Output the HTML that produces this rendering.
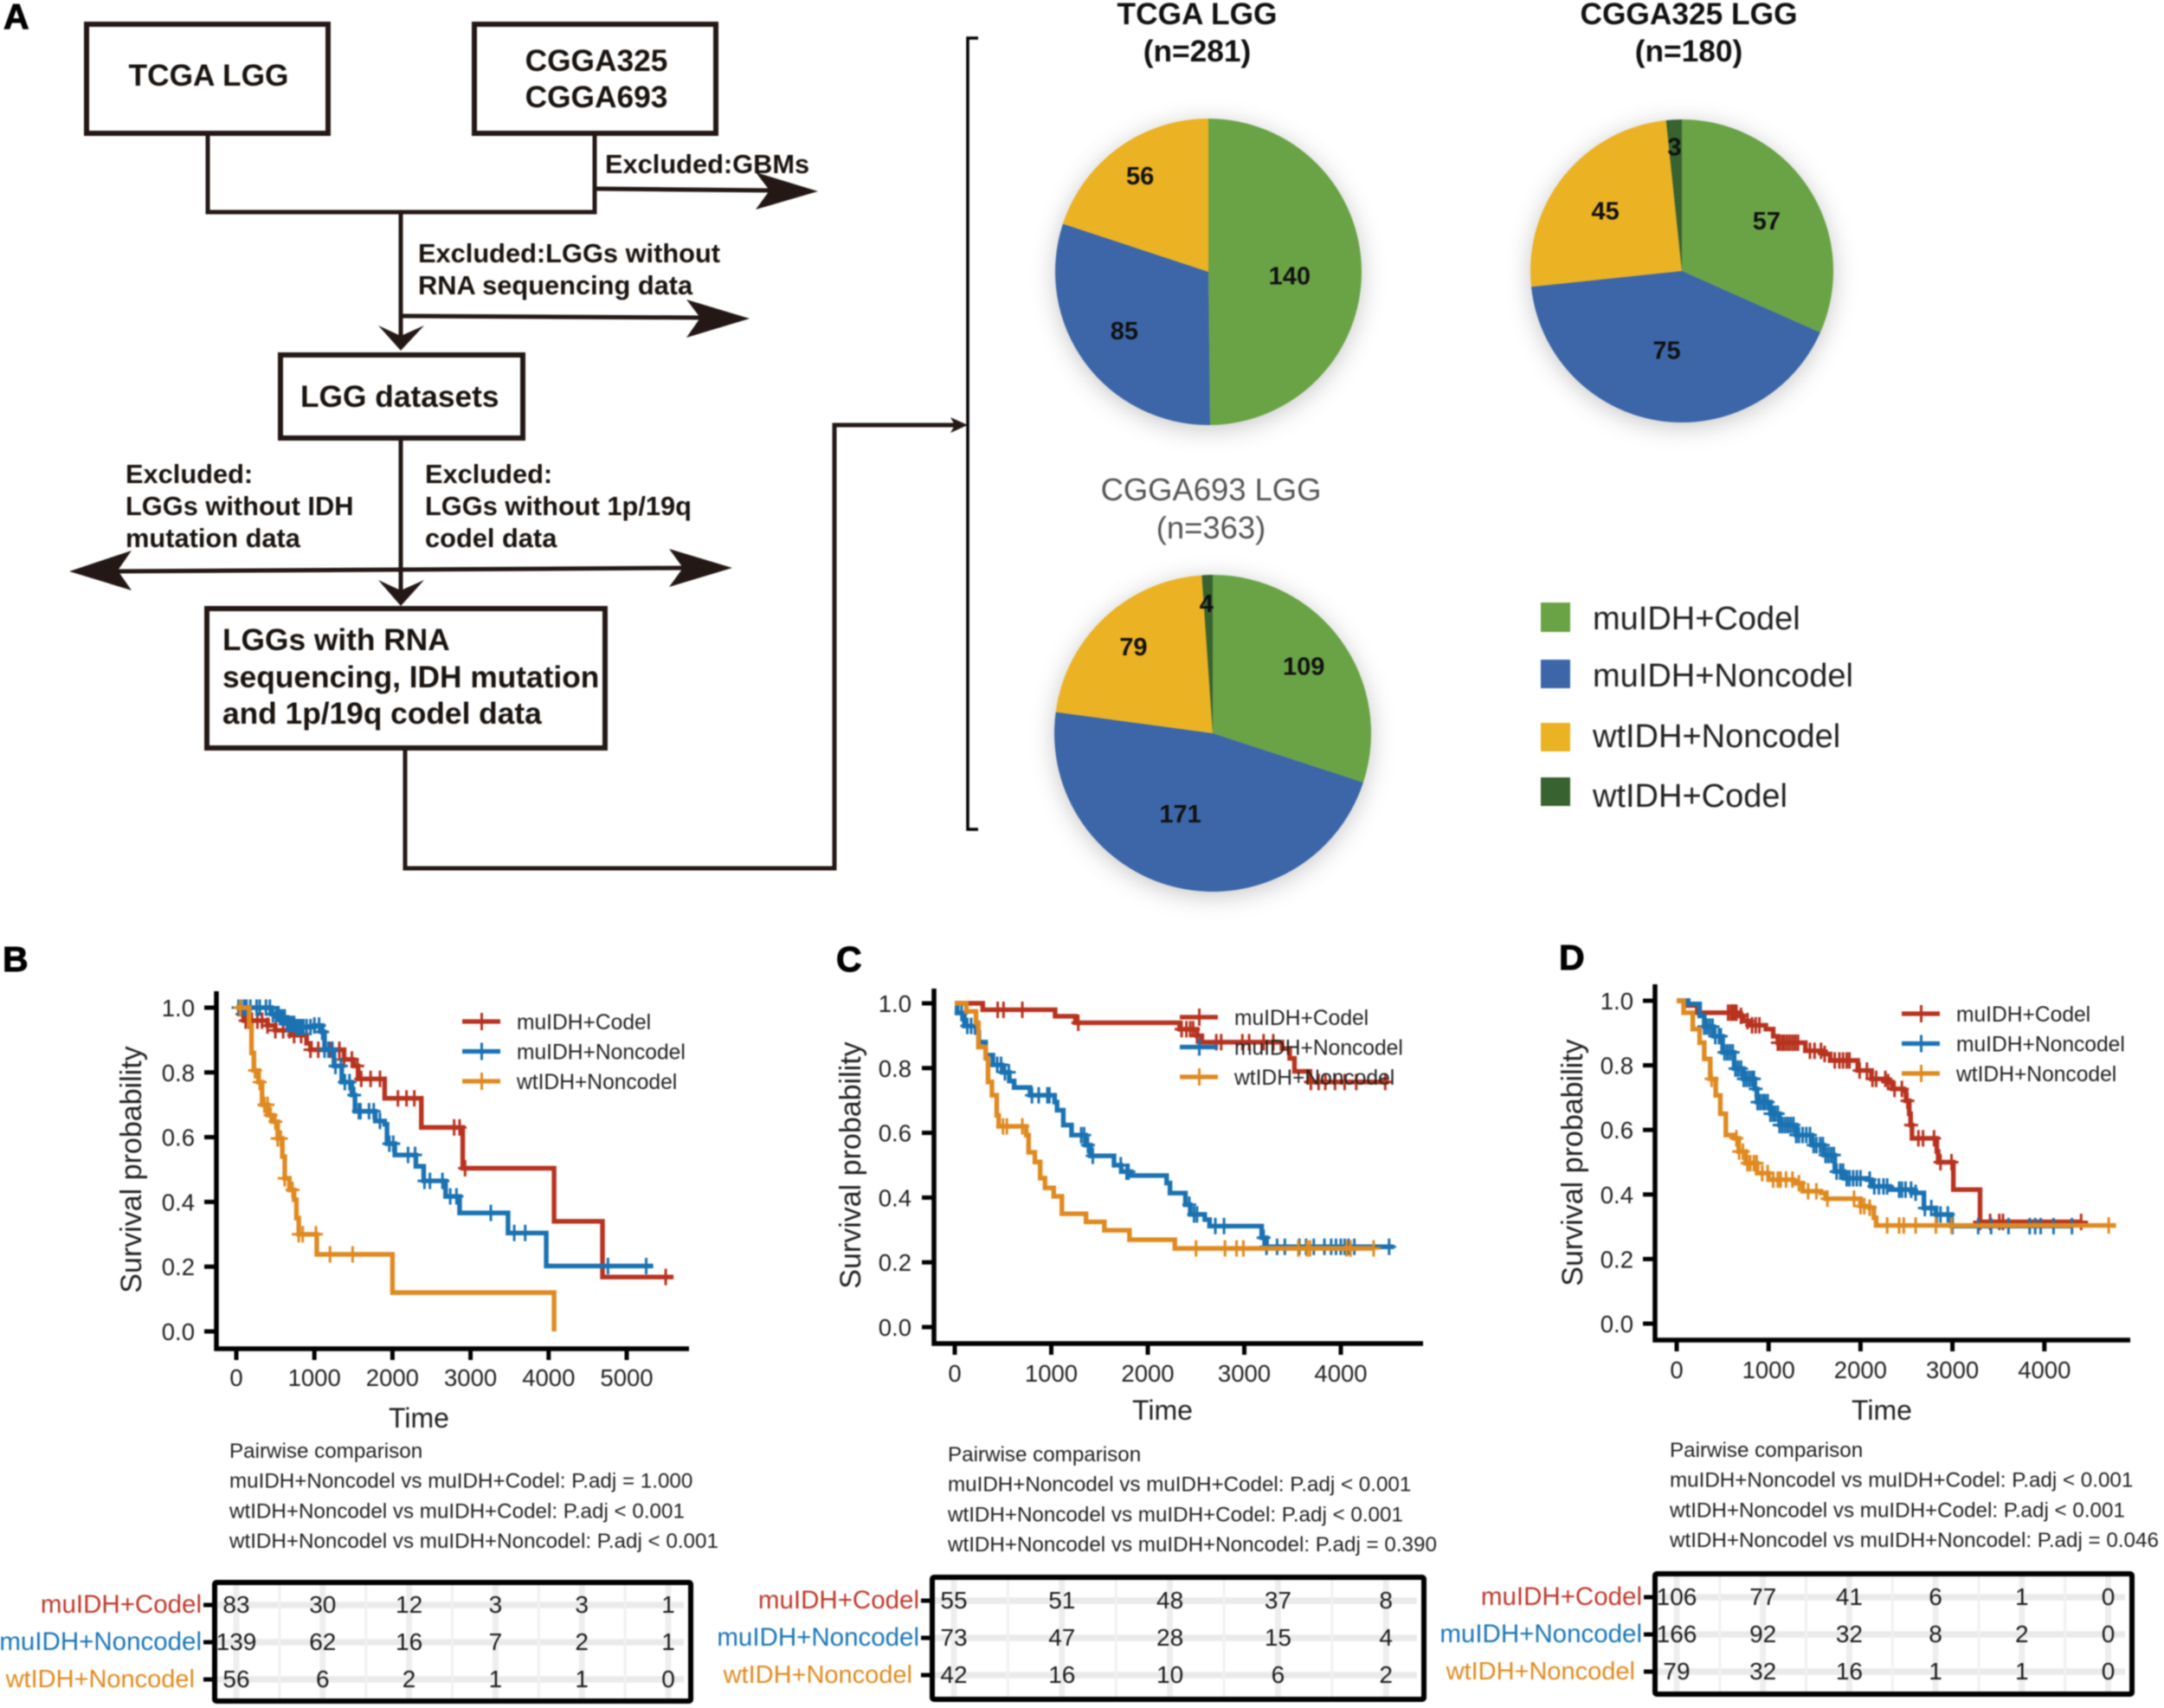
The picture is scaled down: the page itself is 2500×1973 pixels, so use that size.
<!DOCTYPE html>
<html lang="en">
<head>
<meta charset="utf-8">
<title>LGG datasets flow chart, pies and survival curves</title>
<style>
html,body{margin:0;padding:0;background:#fff;}
svg{display:block;font-family:"Liberation Sans",Arial,sans-serif;}
#figure-root{filter:blur(0.8px);}
.flow-line{fill:none;stroke:#231815;stroke-width:5;}
.flow-box{fill:#fff;stroke:#231815;stroke-width:6;}
.arrow-head{fill:#231815;stroke:none;}
.flow-big{font-weight:700;font-size:35.3px;fill:#1a1410;}
.flow-small{font-weight:700;font-size:30.8px;fill:#1a1410;}
.panel-letter{font-weight:700;font-size:41px;fill:#000;stroke:#000;stroke-width:1;}
.pie-title{font-weight:700;font-size:35.3px;fill:#111;}
.legend-big{font-size:38px;fill:#222;}
</style>
</head>
<body>
<svg id="chart" xmlns="http://www.w3.org/2000/svg" width="2500" height="1973" viewBox="0 0 2500 1973">
<rect width="2500" height="1973" fill="#fff"/>
<g id="figure-root">
  <text class="panel-letter" x="4" y="33">A</text>
  <text class="panel-letter" x="3" y="1122">B</text>
  <text class="panel-letter" x="966" y="1122">C</text>
  <text class="panel-letter" x="1801" y="1120">D</text>

  <g>
    <path class="flow-line" d="M240 154V245H687V154"/>
    <path class="flow-line" d="M463 245V395"/>
    <path class="flow-line" d="M687 218L895 220"/>
    <path class="flow-line" d="M463 365L815 367"/>
    <path class="flow-line" d="M463 506V690"/>
    <path class="flow-line" d="M130 660L463 658"/>
    <path class="flow-line" d="M463 658L795 656"/>
    <path class="flow-line" d="M468 864V1003H964V491H1105"/>
    <polygon class="arrow-head" points="945,221 873,199 889,220 873,242"/>
    <polygon class="arrow-head" points="866,368 793,346 809,367 793,390"/>
    <polygon class="arrow-head" points="463,405 437,376 463,388 490,376"/>
    <polygon class="arrow-head" points="80,660 152,636 136,659 152,682"/>
    <polygon class="arrow-head" points="846,656 773,634 789,656 773,678"/>
    <polygon class="arrow-head" points="463,700 437,670 463,682 490,670"/>
    <polygon class="arrow-head" points="1118,491 1098,482 1103,491 1098,500"/>
    <rect class="flow-box" x="100" y="28" width="279" height="126"/>
    <rect class="flow-box" x="548" y="28" width="279" height="126"/>
    <rect class="flow-box" x="324" y="410" width="280" height="96"/>
    <rect class="flow-box" x="239" y="703" width="460" height="161"/>
    <text class="flow-big" x="241" y="99" text-anchor="middle">TCGA LGG</text>
    <text class="flow-big" x="689" y="82" text-anchor="middle">CGGA325</text>
    <text class="flow-big" x="689" y="124" text-anchor="middle">CGGA693</text>
    <text class="flow-big" x="347" y="470">LGG datasets</text>
    <text class="flow-big" x="257" y="751">LGGs with RNA</text>
    <text class="flow-big" x="257" y="794">sequencing, IDH mutation</text>
    <text class="flow-big" x="257" y="836">and 1p/19q codel data</text>
    <text class="flow-small" x="699" y="200">Excluded:GBMs</text>
    <text class="flow-small" x="483" y="303">Excluded:LGGs without</text>
    <text class="flow-small" x="483" y="340">RNA sequencing data</text>
    <text class="flow-small" x="145" y="558">Excluded:</text>
    <text class="flow-small" x="145" y="595">LGGs without IDH</text>
    <text class="flow-small" x="145" y="632">mutation data</text>
    <text class="flow-small" x="491" y="558">Excluded:</text>
    <text class="flow-small" x="491" y="595">LGGs without 1p/19q</text>
    <text class="flow-small" x="491" y="632">codel data</text>
    <path class="flow-line" style="stroke:#000;stroke-width:3.5" d="M1130 44H1118V958H1130"/>
  </g>

  <g>
    <text class="pie-title" x="1383" y="28" text-anchor="middle">TCGA LGG</text>
    <text class="pie-title" x="1383" y="71" text-anchor="middle">(n=281)</text>
    <text class="pie-title" x="1951" y="28" text-anchor="middle">CGGA325 LGG</text>
    <text class="pie-title" x="1951" y="71" text-anchor="middle">(n=180)</text>
    <text class="pie-title" style="font-weight:400;font-size:36.4px;fill:#555" x="1399" y="578" text-anchor="middle">CGGA693 LGG</text>
    <text class="pie-title" style="font-weight:400;font-size:36.4px;fill:#555" x="1399" y="622" text-anchor="middle">(n=363)</text>
  </g>

  <g id="pies"></g>

  <g>
    <rect x="1780" y="696" width="34" height="34" fill="#6AA345"/>
    <rect x="1780" y="762" width="34" height="33" fill="#3C66A8"/>
    <rect x="1780" y="835" width="34" height="33" fill="#EBB223"/>
    <rect x="1780" y="898" width="34" height="33" fill="#38622F"/>
    <text class="legend-big" x="1840" y="727">muIDH+Codel</text>
    <text class="legend-big" x="1840" y="793">muIDH+Noncodel</text>
    <text class="legend-big" x="1840" y="863">wtIDH+Noncodel</text>
    <text class="legend-big" x="1840" y="932">wtIDH+Codel</text>
  </g>

  <g id="panels"></g>
</g>
</svg>
<script>
// ---------- pie data ----------
const tcgaCounts = [140, 85, 56];
const cgga325Counts = [57, 75, 45, 3];
const cgga693Counts = [109, 171, 79, 4];

// ---------- shared axis labels ----------
const survivalTicks = [0, 0.2, 0.4, 0.6, 0.8, 1];
const timeTicksB = [0, 1000, 2000, 3000, 4000, 5000];
const timeTicksC = [0, 1000, 2000, 3000, 4000];
const timeTicksD = [0, 1000, 2000, 3000, 4000];
const seriesNames = ['muIDH+Codel', 'muIDH+Noncodel', 'wtIDH+Noncodel'];

// ---------- panel B ----------
const bCodelTimes = [0, 50, 100, 400, 500, 700, 900, 950, 1380, 1500, 1560, 1900, 2370, 2900, 4070, 4690, 5600];
const bCodelSurv = [1, 0.98, 0.96, 0.945, 0.93, 0.915, 0.89, 0.87, 0.84, 0.82, 0.78, 0.72, 0.63, 0.504, 0.34, 0.168, 0.168];
const bCodelCensor = [30, 80, 120, 160, 200, 270, 330, 400, 500, 600, 680, 740, 830, 950, 1050, 1200, 1320, 1380, 1480, 1550, 1600, 1720, 1840, 2070, 2180, 2280, 2790, 2860, 2930, 5500];
const bNoncodelTimes = [0, 450, 550, 650, 750, 1000, 1100, 1130, 1250, 1350, 1480, 1520, 1780, 1900, 1930, 2030, 2300, 2400, 2680, 2860, 3480, 3970, 5340];
const bNoncodelSurv = [1, 0.98, 0.97, 0.95, 0.94, 0.945, 0.925, 0.87, 0.82, 0.77, 0.73, 0.68, 0.65, 0.64, 0.58, 0.545, 0.51, 0.465, 0.417, 0.366, 0.304, 0.202, 0.202];
const bNoncodelCensor = [30, 60, 100, 130, 180, 260, 300, 380, 430, 470, 510, 540, 560, 590, 620, 650, 680, 710, 740, 770, 800, 830, 860, 900, 950, 1000, 1060, 1100, 1130, 1180, 1230, 1270, 1340, 1390, 1450, 1510, 1570, 1590, 1700, 1760, 1840, 1960, 2010, 2200, 2290, 2410, 2480, 2640, 2740, 2820, 3260, 3560, 3700, 4760, 5250];
const bWildTimes = [0, 165, 195, 225, 285, 330, 405, 470, 530, 590, 620, 680, 740, 770, 800, 1030, 2000, 4070];
const bWildSurv = [1, 0.945, 0.86, 0.806, 0.77, 0.7, 0.668, 0.648, 0.596, 0.54, 0.473, 0.437, 0.407, 0.35, 0.3, 0.238, 0.12, 0];
const bWildCensor = [50, 240, 300, 360, 400, 440, 500, 530, 570, 620, 720, 800, 850, 1020, 1200, 1490];
const bRiskCodel = [83, 30, 12, 3, 3, 1];
const bRiskNoncodel = [139, 62, 16, 7, 2, 1];
const bRiskWild = [56, 6, 2, 1, 1, 0];
const bPairwise = ['Pairwise comparison', 'muIDH+Noncodel vs muIDH+Codel: P.adj = 1.000', 'wtIDH+Noncodel vs muIDH+Codel: P.adj < 0.001', 'wtIDH+Noncodel vs muIDH+Noncodel: P.adj < 0.001'];

// ---------- panel C ----------
const cCodelTimes = [0, 290, 1040, 1250, 2330, 2510, 2560, 3390, 3470, 3520, 3680, 4500];
const cCodelSurv = [1, 0.98, 0.96, 0.94, 0.92, 0.9, 0.88, 0.86, 0.83, 0.79, 0.757, 0.757];
const cCodelCensor = [445, 505, 700, 1280, 2350, 2400, 2440, 2470, 2510, 2710, 2760, 2980, 3050, 3200, 3300, 3690, 3770, 3840, 3940, 4040, 4160, 4460];
const cNoncodelTimes = [0, 25, 100, 220, 250, 320, 395, 490, 565, 615, 780, 1035, 1060, 1125, 1210, 1355, 1405, 1650, 1725, 1825, 2195, 2230, 2390, 2440, 2590, 2640, 3180, 3230, 4550];
const cNoncodelSurv = [1, 0.97, 0.93, 0.91, 0.88, 0.84, 0.81, 0.787, 0.76, 0.74, 0.716, 0.695, 0.67, 0.624, 0.593, 0.562, 0.529, 0.5, 0.48, 0.468, 0.445, 0.414, 0.378, 0.348, 0.332, 0.312, 0.276, 0.248, 0.248];
const cNoncodelCensor = [70, 130, 170, 440, 480, 520, 560, 800, 870, 960, 980, 1310, 1340, 1380, 1430, 1720, 1780, 1800, 2430, 2480, 2510, 2700, 2790, 3200, 3230, 3340, 3420, 3570, 3640, 3720, 3830, 3900, 3950, 4000, 4040, 4080, 4140, 4500];
const cWildTimes = [0, 120, 220, 245, 320, 345, 385, 435, 455, 740, 765, 830, 885, 935, 1025, 1110, 1360, 1550, 1810, 2280, 4340];
const cWildSurv = [1, 0.975, 0.94, 0.865, 0.83, 0.757, 0.716, 0.654, 0.62, 0.593, 0.54, 0.51, 0.46, 0.43, 0.404, 0.35, 0.325, 0.299, 0.27, 0.243, 0.243];
const cWildCensor = [500, 540, 700, 2500, 2800, 2920, 2990, 3560, 3650, 3680, 4060, 4100, 4340];
const cRiskCodel = [55, 51, 48, 37, 8];
const cRiskNoncodel = [73, 47, 28, 15, 4];
const cRiskWild = [42, 16, 10, 6, 2];
const cPairwise = ['Pairwise comparison', 'muIDH+Noncodel vs muIDH+Codel: P.adj < 0.001', 'wtIDH+Noncodel vs muIDH+Codel: P.adj < 0.001', 'wtIDH+Noncodel vs muIDH+Noncodel: P.adj = 0.390'];

// ---------- panel D ----------
const dCodelTimes = [0, 125, 225, 670, 725, 800, 970, 1050, 1100, 1400, 1600, 1670, 1970, 2120, 2295, 2345, 2470, 2495, 2530, 2545, 2560, 2830, 2845, 3010, 3300, 4400];
const dCodelSurv = [1, 0.985, 0.963, 0.953, 0.937, 0.924, 0.912, 0.89, 0.87, 0.845, 0.835, 0.815, 0.784, 0.758, 0.748, 0.727, 0.722, 0.69, 0.65, 0.615, 0.574, 0.533, 0.5, 0.415, 0.315, 0.315];
const dCodelCensor = [560, 590, 600, 620, 630, 650, 700, 770, 820, 860, 900, 1100, 1120, 1150, 1170, 1200, 1230, 1260, 1290, 1320, 1450, 1500, 1570, 1610, 1720, 1770, 1810, 1850, 1880, 1990, 2070, 2130, 2170, 2270, 2300, 2370, 2450, 2510, 2550, 2630, 2680, 2800, 2870, 2990, 3300, 3410, 3510, 3550, 4400];
const dNoncodelTimes = [0, 125, 250, 300, 400, 500, 625, 725, 850, 875, 1020, 1120, 1300, 1470, 1600, 1720, 1820, 2070, 2120, 2320, 2570, 2690, 2820, 2990, 4300];
const dNoncodelSurv = [1, 0.99, 0.953, 0.92, 0.89, 0.84, 0.79, 0.758, 0.727, 0.686, 0.65, 0.615, 0.584, 0.553, 0.522, 0.471, 0.45, 0.446, 0.425, 0.415, 0.405, 0.358, 0.338, 0.302, 0.302];
const dNoncodelCensor = [300, 330, 360, 390, 420, 460, 480, 520, 550, 580, 610, 640, 670, 700, 730, 760, 790, 820, 840, 860, 880, 910, 940, 960, 990, 1020, 1050, 1070, 1100, 1120, 1150, 1180, 1210, 1240, 1270, 1300, 1330, 1370, 1410, 1450, 1490, 1520, 1560, 1590, 1620, 1650, 1680, 1710, 1740, 1780, 1810, 1850, 1880, 1920, 1960, 2000, 2100, 2150, 2200, 2250, 2290, 2420, 2450, 2490, 2550, 2600, 2700, 2770, 2830, 2870, 2950, 3000, 3280, 3420, 3610, 3840, 3900, 3960, 4100, 4300];
const dWildTimes = [0, 75, 175, 250, 300, 365, 425, 475, 535, 625, 675, 750, 875, 1000, 1270, 1370, 1570, 1620, 2000, 2095, 2145, 2170, 4780];
const dWildSurv = [1, 0.963, 0.912, 0.87, 0.82, 0.758, 0.707, 0.65, 0.584, 0.574, 0.533, 0.497, 0.466, 0.446, 0.435, 0.41, 0.405, 0.387, 0.364, 0.359, 0.328, 0.304, 0.304];
const dWildCensor = [380, 650, 680, 720, 770, 800, 840, 870, 930, 990, 1050, 1100, 1130, 1190, 1260, 1330, 1430, 1520, 1640, 1930, 2000, 2040, 2100, 2290, 2420, 2470, 2600, 2820, 2990, 4700];
const dRiskCodel = [106, 77, 41, 6, 1, 0];
const dRiskNoncodel = [166, 92, 32, 8, 2, 0];
const dRiskWild = [79, 32, 16, 1, 1, 0];
const dPairwise = ['Pairwise comparison', 'muIDH+Noncodel vs muIDH+Codel: P.adj < 0.001', 'wtIDH+Noncodel vs muIDH+Codel: P.adj < 0.001', 'wtIDH+Noncodel vs muIDH+Noncodel: P.adj = 0.046'];

// ---------- drawing ----------
const NS = 'http://www.w3.org/2000/svg';
const seriesColors = ['#B8331F', '#1A72B2', '#DF8A20'];
const labelColors = ['#C0392B', '#1A76B8', '#E08A1E'];
const pieColors = ['#6AA345', '#3C66A8', '#EBB223', '#38622F'];

function make(tag, attrs, parent) {
  const el = document.createElementNS(NS, tag);
  for (const k in attrs) el.setAttribute(k, attrs[k]);
  parent.appendChild(el);
  return el;
}

function drawPie(counts, cfg) {
  const root = document.getElementById('pies');
  const g = make('g', {style: 'filter:drop-shadow(0 5px 14px rgba(0,0,0,.22))'}, root);
  
  
  const total = counts.reduce((a, b) => a + b, 0);
  let running = 0;
  const angleAt = v => v / total * 2 * Math.PI;
  counts.forEach((c, i) => {
    const a0 = angleAt(running), a1 = angleAt(running + c);
    const large = a1 - a0 > Math.PI ? 1 : 0;
    const d = 'M' + cfg.cx + ' ' + cfg.cy +
      'L' + (cfg.cx + cfg.r * Math.sin(a0)) + ' ' + (cfg.cy - cfg.r * Math.cos(a0)) +
      'A' + cfg.r + ' ' + cfg.r + ' 0 ' + large + ' 1 ' + (cfg.cx + cfg.r * Math.sin(a1)) + ' ' + (cfg.cy - cfg.r * Math.cos(a1)) + 'Z';
    const slice = make('path', {d: d, fill: pieColors[i]}, g);
    
    
    running += c;
  });
  running = 0;
  counts.forEach((c, i) => {
    const mid = angleAt(running + c / 2);
    const rr = cfg.r * cfg.labelRadius[i];
    const t = make('text', {
      x: cfg.cx + rr * Math.sin(mid) + cfg.nudgeX[i],
      y: cfg.cy - rr * Math.cos(mid) + 10 + cfg.nudgeY[i],
      'text-anchor': 'middle', 'font-weight': 700, 'font-size': 29, fill: '#111'
    }, root);
    
    
    t.textContent = c;
    running += c;
  });
}

function stepAt(times, surv, t) {
  let s = surv[0];
  for (let i = 0; i < times.length; i++) { if (times[i] <= t) s = surv[i]; }
  return s;
}

function drawPanel(p) {
  const root = document.getElementById('panels');
  const g = make('g', {}, root);
  
  
  const x = t => p.x0 + t * p.xPer;
  const y = s => p.y0 + s * (p.y1 - p.y0);

  // curves
  p.series.forEach((s, i) => {
    let d = 'M' + x(s.times[0]) + ' ' + y(s.surv[0]);
    for (let k = 1; k < s.times.length; k++) {
      d += 'H' + x(s.times[k]) + 'V' + y(s.surv[k]);
    }
    const line = make('path', {d: d, fill: 'none', stroke: seriesColors[i], 'stroke-width': 5.4, 'stroke-linejoin': 'miter'}, g);
    
    
    s.censor.forEach(t => {
      const cx = x(t), cy = y(stepAt(s.times, s.surv, t));
      const mark = make('path', {d: 'M' + (cx - 8) + ' ' + cy + 'H' + (cx + 8) + 'M' + cx + ' ' + (cy - 9.5) + 'V' + (cy + 9.5), stroke: seriesColors[i], 'stroke-width': 3, fill: 'none'}, g);
      
      
    });
  });

  // axes
  const axes = make('path', {d: 'M' + p.axisX + ' ' + p.axisTop + 'V' + p.axisY + 'H' + p.axisRight, fill: 'none', stroke: '#000', 'stroke-width': 5.5}, g);
  
  

  survivalTicks.forEach(v => {
    const tick = make('line', {x1: p.axisX - 14, x2: p.axisX, y1: y(v), y2: y(v), stroke: '#000', 'stroke-width': 5}, g);
    
    
    const label = make('text', {x: p.yLabelX, y: y(v) + 10, 'text-anchor': 'end', 'font-size': 27.5, fill: '#222'}, g);
    
    
    label.textContent = v.toFixed(1);
  });
  p.timeTicks.forEach(v => {
    const tick = make('line', {x1: x(v), x2: x(v), y1: p.axisY, y2: p.axisY + 13, stroke: '#000', 'stroke-width': 5}, g);
    
    
    const label = make('text', {x: x(v), y: p.xLabelY, 'text-anchor': 'middle', 'font-size': 27.5, fill: '#222'}, g);
    
    
    label.textContent = v;
  });

  const xTitle = make('text', {x: p.timeX, y: p.timeY, 'text-anchor': 'middle', 'font-size': 32, fill: '#222'}, g);
  
  
  xTitle.textContent = 'Time';
  const yTitle = make('text', {x: p.survX, y: p.survY, 'text-anchor': 'middle', 'font-size': 34, fill: '#222', transform: 'rotate(-90 ' + p.survX + ' ' + p.survY + ')'}, g);
  
  
  yTitle.textContent = 'Survival probability';

  // legend
  seriesNames.forEach((nm, i) => {
    const ly = p.legendY + i * p.legendGap;
    const keyLine = make('line', {x1: p.legendX - 1, x2: p.legendX + 43, y1: ly, y2: ly, stroke: seriesColors[i], 'stroke-width': 5.2}, g);
    
    
    const keyTick = make('line', {x1: p.legendX + 21.5, x2: p.legendX + 21.5, y1: ly - 10, y2: ly + 10, stroke: seriesColors[i], 'stroke-width': 3}, g);
    
    
    const txt = make('text', {x: p.legendX + 62, y: ly + 9, 'font-size': 24.6, fill: '#222'}, g);
    
    
    txt.textContent = nm;
  });

  // pairwise text
  p.pairwise.forEach((line, i) => {
    const t = make('text', {x: p.pairX, y: p.pairY + i * 34.7, 'font-size': 24.2, fill: '#222'}, g);
    
    
    t.textContent = line;
  });

  // risk table
  const T = p.table;
  p.risk.forEach((row, r) => {
    const ry = T.rowY + r * T.rowGap;
    const bar = make('line', {x1: T.left, x2: T.right - 8, y1: ry, y2: ry, stroke: '#EAEAEA', 'stroke-width': 7.5}, g);
    
    
  });
  p.risk[0].forEach((_, c) => {
    const cx = T.colX + c * T.colGap;
    const major = make('line', {x1: cx, x2: cx, y1: T.top, y2: T.bottom, stroke: '#EEEEEE', 'stroke-width': 7}, g);
    
    
    const mx = cx + T.colGap / 2;
    if (mx < T.right) {
      const minor = make('line', {x1: mx, x2: mx, y1: T.top, y2: T.bottom, stroke: '#F1F1F1', 'stroke-width': 3}, g);
      
      
    }
  });
  p.risk.forEach((row, r) => {
    const ry = T.rowY + r * T.rowGap;
    const tick = make('line', {x1: T.left - 13, x2: T.left, y1: ry, y2: ry, stroke: '#000', 'stroke-width': 5}, g);
    
    
    const lab = make('text', {x: r === 2 ? T.left - 23 : T.left - 15, y: ry + 9, 'text-anchor': 'end', 'font-size': r === 2 ? 29 : 29.5, fill: labelColors[r]}, g);
    
    
    lab.textContent = seriesNames[r];
    row.forEach((v, c) => {
      const num = make('text', {x: T.colX + c * T.colGap, y: ry + 9, 'text-anchor': 'middle', 'font-size': 28, fill: '#1a1a1a'}, g);
      
      
      num.textContent = v;
    });
  });
  const frame = make('rect', {x: T.left, y: T.top, width: T.right - T.left, height: T.bottom - T.top, fill: 'none', stroke: '#000', 'stroke-width': 6, rx: 2}, g);
  
  
}

drawPie(tcgaCounts, {name: 'tcga-pie', cx: 1396, cy: 314, r: 177, labelRadius: [0.53, 0.68, 0.76], nudgeX: [0, 0, 0], nudgeY: [5, -3, -2]});
drawPie(cgga325Counts, {name: 'cgga325-pie', cx: 1943, cy: 313, r: 175, labelRadius: [0.64, 0.53, 0.65, 0.82], nudgeX: [4, -3, 0, -1], nudgeY: [3, 0, 2, 0]});
drawPie(cgga693Counts, {name: 'cgga693-pie', cx: 1401, cy: 847, r: 183, labelRadius: [0.71, 0.55, 0.74, 0.82], nudgeX: [0, -15, 1, -2], nudgeY: [-1, -5, -1, 0]});

drawPanel({
  name: 'survival-panel-b', x0: 273, xPer: 0.0902, y0: 1538, y1: 1164,
  axisX: 250, axisTop: 1145, axisY: 1558, axisRight: 796, yLabelX: 225, xLabelY: 1601,
  timeX: 484, timeY: 1649, survX: 163, survY: 1351,
  legendX: 535, legendY: 1180, legendGap: 34.5, timeTicks: timeTicksB,
  pairX: 265, pairY: 1684, pairwise: bPairwise,
  series: [
    {times: bCodelTimes, surv: bCodelSurv, censor: bCodelCensor},
    {times: bNoncodelTimes, surv: bNoncodelSurv, censor: bNoncodelCensor},
    {times: bWildTimes, surv: bWildSurv, censor: bWildCensor}
  ],
  risk: [bRiskCodel, bRiskNoncodel, bRiskWild],
  table: {left: 248, right: 798, top: 1828, bottom: 1965, rowY: 1854, rowGap: 43, colX: 273, colGap: 99.8}
});
drawPanel({
  name: 'survival-panel-c', x0: 1103, xPer: 0.1115, y0: 1533, y1: 1159,
  axisX: 1079, axisTop: 1142, axisY: 1552, axisRight: 1644, yLabelX: 1053, xLabelY: 1596,
  timeX: 1343, timeY: 1640, survX: 994, survY: 1346,
  legendX: 1364, legendY: 1175, legendGap: 34.5, timeTicks: timeTicksC,
  pairX: 1095, pairY: 1688, pairwise: cPairwise,
  series: [
    {times: cCodelTimes, surv: cCodelSurv, censor: cCodelCensor},
    {times: cNoncodelTimes, surv: cNoncodelSurv, censor: cNoncodelCensor},
    {times: cWildTimes, surv: cWildSurv, censor: cWildCensor}
  ],
  risk: [cRiskCodel, cRiskNoncodel, cRiskWild],
  table: {left: 1077, right: 1645, top: 1822, bottom: 1963, rowY: 1849, rowGap: 43, colX: 1102, colGap: 124.8}
});
drawPanel({
  name: 'survival-panel-d', x0: 1937, xPer: 0.1062, y0: 1529, y1: 1156,
  axisX: 1912, axisTop: 1137, axisY: 1548, axisRight: 2461, yLabelX: 1887, xLabelY: 1592,
  timeX: 2174, timeY: 1640, survX: 1828, survY: 1343,
  legendX: 2198, legendY: 1171, legendGap: 34.5, timeTicks: timeTicksD,
  pairX: 1929, pairY: 1683, pairwise: dPairwise,
  series: [
    {times: dCodelTimes, surv: dCodelSurv, censor: dCodelCensor},
    {times: dNoncodelTimes, surv: dNoncodelSurv, censor: dNoncodelCensor},
    {times: dWildTimes, surv: dWildSurv, censor: dWildCensor}
  ],
  risk: [dRiskCodel, dRiskNoncodel, dRiskWild],
  table: {left: 1912, right: 2463, top: 1818, bottom: 1957, rowY: 1845, rowGap: 43, colX: 1937, colGap: 99.7}
});
</script>
</body>
</html>
